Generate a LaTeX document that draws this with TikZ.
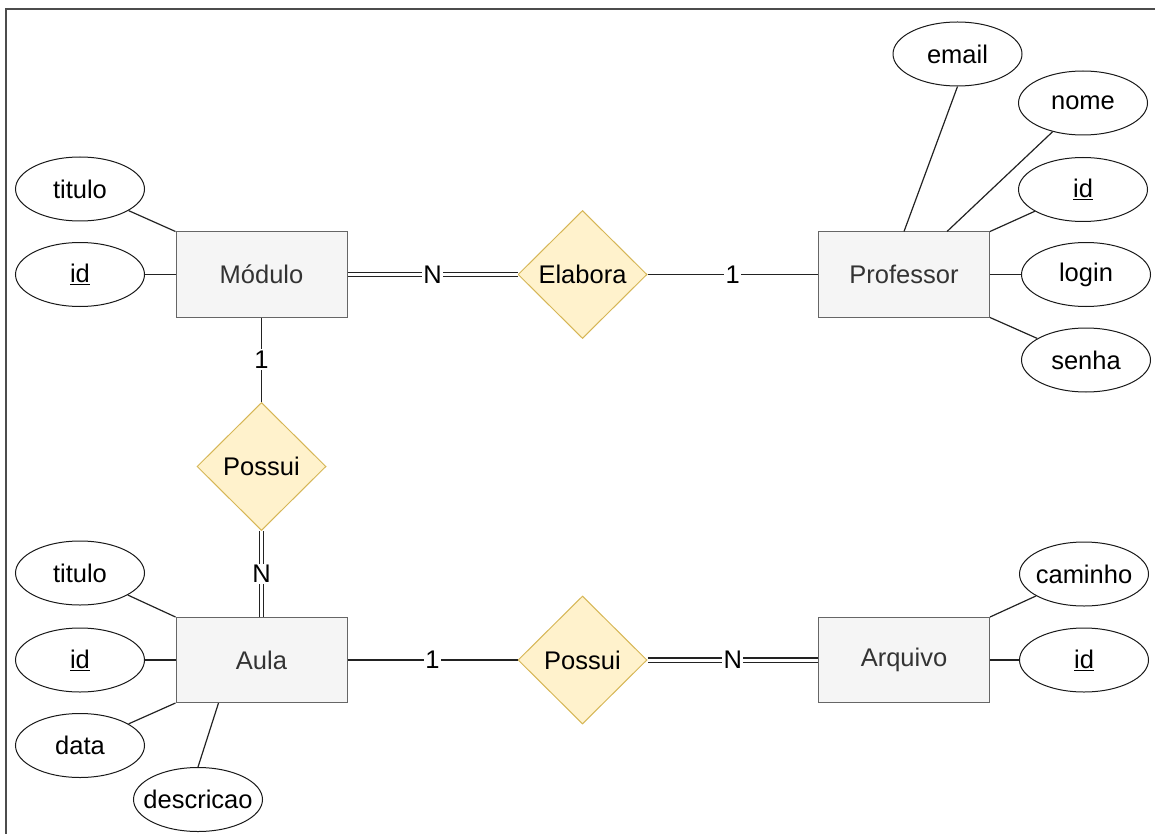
\documentclass[tikz,border=0pt]{standalone}
\usepackage{fontspec}
\setmainfont{Liberation Sans}
\usetikzlibrary{shapes.geometric,calc}
\definecolor{entfill}{HTML}{F5F5F5}
\definecolor{entstroke}{HTML}{666666}
\definecolor{enttext}{HTML}{333333}
\definecolor{relfill}{HTML}{FFF2CC}
\definecolor{relstroke}{HTML}{D6B656}
\definecolor{linecol}{HTML}{222222}
\newcommand{\attxt}[1]{\makebox[0pt]{#1}}
\begin{document}
\begin{tikzpicture}[x=1pt,y=-1pt,
 every node/.style={font=\fontsize{25.5}{30}\selectfont},
 entity/.style={draw=entstroke, fill=entfill, text=enttext, minimum width=171pt, minimum height=85pt, inner sep=0pt, line width=1pt},
 rel/.style={diamond, aspect=1, draw=relstroke, fill=relfill, minimum width=129pt, minimum height=128pt, inner sep=0pt, line width=1pt},
 attr/.style={ellipse, draw=black!90, fill=white, minimum width=129pt, minimum height=64pt, inner sep=0pt, line width=1pt},
 conn/.style={draw=linecol, line width=1.2pt},
 dbl/.style={draw=linecol, double=white, double distance=3pt, line width=1.2pt},
 card/.style={fill=white, inner sep=1.5pt},
]
\useasboundingbox (0,0) rectangle (1155,834);
\draw[line width=1.2pt, black!70] (6,834) -- (6,9) -- (1155,9);

% entities
\node[entity] (mod) at (261.5,274.5) {Módulo};
\node[entity] (prof) at (904,274.5) {Professor};
\node[entity] (aula) at (261.5,660) {Aula};
\node[entity] (arq) at (904,660) {Arquivo};

% relationships
\node[rel] (elab) at (582.5,274.5) {Elabora};
\node[rel] (pos1) at (261.5,466.5) {Possui};
\node[rel] (pos2) at (582.5,660) {Possui};

% attributes
\node[attr] (mtit) at (80,189) {\attxt{titulo}};
\node[attr] (mid) at (80,274.5) {\attxt{\underline{id}}};
\node[attr] (email) at (957.5,54) {\attxt{email}};
\node[attr] (nome) at (1083,103) {\attxt{nome}};
\node[attr] (pid) at (1083,189.5) {\attxt{\underline{id}}};
\node[attr] (login) at (1086,274.5) {\attxt{login}};
\node[attr] (senha) at (1086,360) {\attxt{senha}};
\node[attr] (atit) at (80,573) {\attxt{titulo}};
\node[attr] (aid) at (80,660) {\attxt{\underline{id}}};
\node[attr] (adata) at (80,745.5) {\attxt{data}};
\node[attr] (adesc) at (198,799.5) {\attxt{descricao}};
\node[attr] (caminho) at (1084,574) {\attxt{caminho}};
\node[attr] (qid) at (1084,660) {\attxt{\underline{id}}};

% relationship connectors
\draw[dbl] (mod) -- node[card]{N} (elab);
\draw[conn] (elab) -- node[card]{1} (prof);
\draw[conn] (mod) -- node[card]{1} (pos1);
\draw[dbl] (pos1) -- node[card]{N} (aula);
\draw[conn] (aula) -- node[card]{1} (pos2);
\draw[dbl] (pos2) -- node[card]{N} (arq);

% attribute connectors
\draw[conn] (mtit) -- (mod.north west);
\draw[conn] (mid) -- (mod);
\draw[conn] (email.south) -- (prof.north);
\draw[conn] (nome) -- ($(prof.north)!0.5!(prof.north east)$);
\draw[conn] (pid) -- (prof.north east);
\draw[conn] (login) -- (prof);
\draw[conn] (senha) -- (prof.south east);
\draw[conn] (atit) -- (aula.north west);
\draw[conn] (aid) -- (aula);
\draw[conn] (adata) -- (aula.south west);
\draw[conn] (adesc.north) -- ($(aula.south west)!0.25!(aula.south east)$);
\draw[conn] (caminho) -- (arq.north east);
\draw[conn] (qid) -- (arq);
\end{tikzpicture}
\end{document}
